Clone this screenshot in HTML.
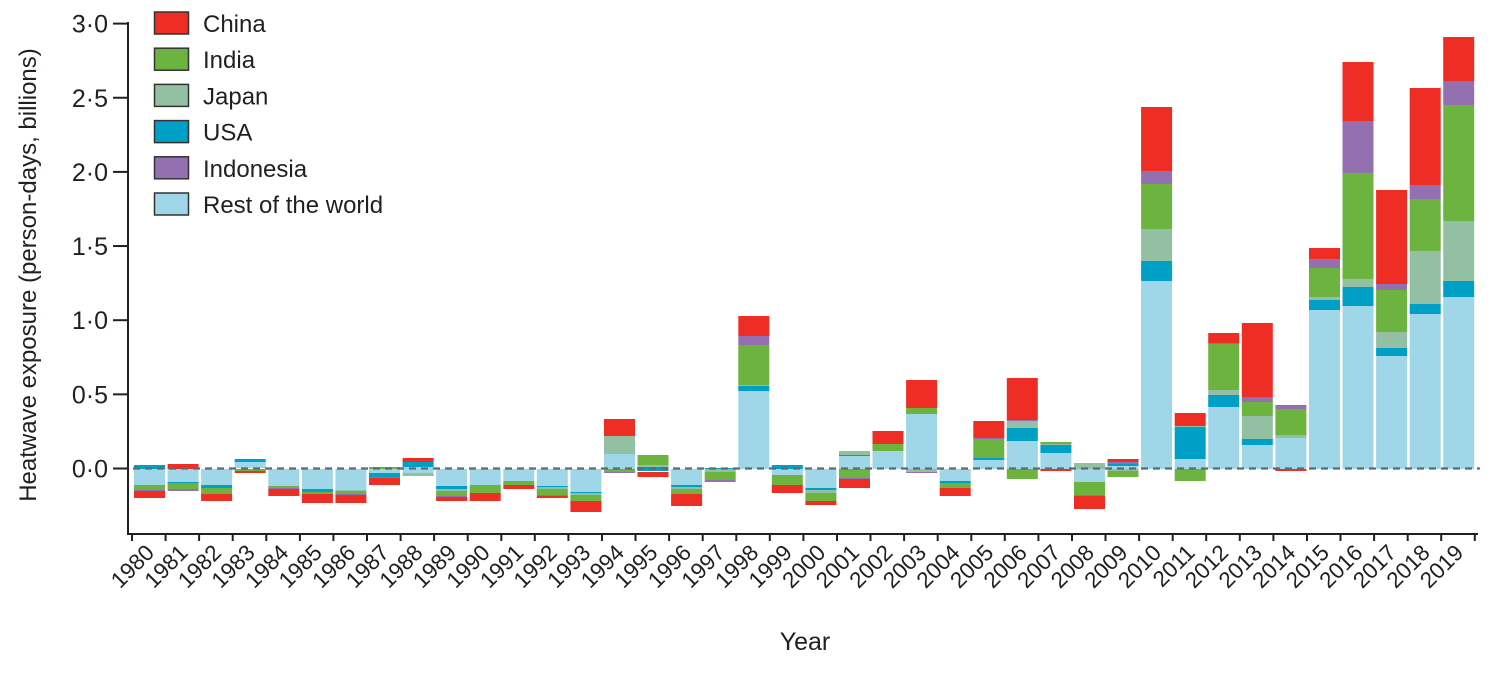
<!DOCTYPE html>
<html><head><meta charset="utf-8"><style>
body{margin:0;background:#fff}
svg text{font-family:"Liberation Sans",sans-serif;fill:#231f20}
</style></head><body>
<svg id="s" width="1498" height="668" xmlns="http://www.w3.org/2000/svg"></svg>
<script>
const C={c:'#ee2e24',i:'#6db33f',j:'#93bfa3',u:'#00a0c6',n:'#9570b0',r:'#9fd6e8'};
const B=[
"u465-469 r469-485 i485-490 n490-491 c491-498",
"c464-469 r469-482 u482-483 i483-489 n489-491",
"r469-485 u485-488 i488-494 c494-501",
"u459-462 r462-468 i469-471 c471-473",
"r469-486 i486-488 n488-489 c489-496",
"r469-489 u489-492 i492-494 c494-503",
"r469-490 j490-491 i491-494 n494-495 c495-503",
"i467-469 r469-473 u473-477 n477-478 c478-485",
"c458-462 u462-467 r467-469 r469-473 j473-476",
"r469-486 u486-489 j489-491 i491-496 n496-497 c497-501",
"r469-485 i485-493 c493-501",
"r469-481 i481-485 c485-489",
"r469-486 u486-487 j487-489 i489-495 n495-496 c496-498",
"r469-492 u492-493 j493-495 i495-501 c501-512",
"c419-436 j436-454 r454-469 i469-472 n472-473",
"i455-465 j465-467 u467-469 u469-471 c472-477",
"r469-485 u485-487 j487-489 i489-494 c494-506",
"u468-469 j469-472 i472-480 n480-482",
"c316-336 n336-345 i345-385 j385-386 u386-391 r391-469",
"u465-469 r469-475 i475-485 c485-493",
"r469-488 u488-490 j490-493 i493-501 c501-505",
"j451-455 u455-456 r456-469 i469-478 n478-479 c479-488",
"c431-444 i444-451 r451-469",
"c380-408 i408-414 r414-469 j469-472 n472-473",
"r469-481 u481-483 i483-488 c488-496",
"c421-438 n438-439 i439-458 u458-460 r460-469",
"c378-420 n420-421 j421-428 u428-441 r441-469 i469-479",
"i442-444 j444-445 u445-453 r453-469 c469-471",
"j463-469 r469-482 i482-495 n495-496 c496-509",
"c459-462 n462-464 u464-466 r466-469 j469-471 i471-477",
"c107-171 n171-184 i184-229 j229-261 u261-281 r281-469",
"c413-426 j426-427 u427-459 r459-469 i469-481",
"c333-343 n343-344 i344-390 j390-395 u395-407 r407-469",
"c323-397 n397-402 i402-416 j416-439 u439-445 r445-469",
"n405-409 i409-435 j435-438 r438-469 c469-471",
"c248-259 n259-268 i268-297 j297-300 u300-310 r310-469",
"c62-121 n121-173 i173-279 j279-287 u287-306 r306-469",
"c190-284 n284-290 i290-332 j332-348 u348-356 r356-469",
"c88-185 n185-199 i199-251 j251-304 u304-314 r314-469",
"c37-81 n81-105 i105-221 j221-281 u281-297 r297-469"];
let h='';const p=33.57,x0=134,w=31;
B.forEach((s,k)=>{const x=x0+k*p;
 s.split(' ').forEach(t=>{const col=C[t[0]];const [a,b]=t.slice(1).split('-').map(Number);
  h+=`<rect x="${x.toFixed(1)}" y="${a}" width="${w}" height="${b-a}" fill="${col}"/>`;});
 const cx=x+w/2+6, cy=554;
 h+=`<text x="${cx.toFixed(1)}" y="${cy}" font-size="22.5" text-anchor="end" transform="rotate(-45 ${cx.toFixed(1)} ${cy})">${1980+k}</text>`;
 h+=`<line x1="${(x-2).toFixed(1)}" y1="534" x2="${(x-2).toFixed(1)}" y2="541" stroke="#231f20" stroke-width="2"/>`;
});
h+=`<line x1="${(x0+40*p-2).toFixed(1)}" y1="534" x2="${(x0+40*p-2).toFixed(1)}" y2="541" stroke="#231f20" stroke-width="2"/>`;
h+=`<line x1="133" y1="468.5" x2="1480" y2="468.5" stroke="#5d6b70" stroke-width="2.2" stroke-dasharray="7 5"/>`;
h+=`<line x1="128" y1="22" x2="128" y2="535" stroke="#231f20" stroke-width="2"/>`;
h+=`<line x1="127" y1="534" x2="1478" y2="534" stroke="#231f20" stroke-width="2"/>`;
['0·0','0·5','1·0','1·5','2·0','2·5','3·0'].forEach((l,k)=>{const y=468.5-k*74.15;
 h+=`<line x1="113" y1="${y}" x2="128" y2="${y}" stroke="#231f20" stroke-width="2"/>`;
 h+=`<text x="108" y="${y+9}" font-size="25" text-anchor="end">${l}</text>`;});
h+=`<text x="36" y="275" font-size="24" text-anchor="middle" transform="rotate(-90 36 275)">Heatwave exposure (person-days, billions)</text>`;
h+=`<text x="805" y="650" font-size="25" text-anchor="middle">Year</text>`;
[['c','China'],['i','India'],['j','Japan'],['u','USA'],['n','Indonesia'],['r','Rest of the world']].forEach((e,k)=>{const y=12+k*36.2;
 h+=`<rect x="154.5" y="${y}" width="34" height="22" fill="${C[e[0]]}" stroke="#333" stroke-width="1.5"/>`;
 h+=`<text x="203" y="${y+20}" font-size="24">${e[1]}</text>`;});
document.getElementById('s').innerHTML=h;
</script>
</body></html>
